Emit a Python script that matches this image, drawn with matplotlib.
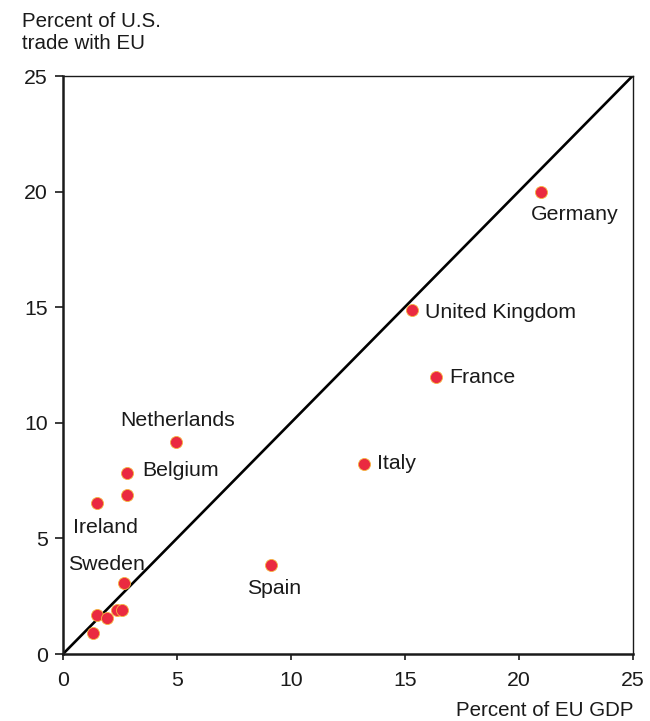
import matplotlib
matplotlib.use("Agg")
import matplotlib.pyplot as plt

plt.rcParams['font.family'] = ['Liberation Sans', 'DejaVu Sans']

# Data: (percent of EU GDP, percent of U.S. trade with EU)
gdp = [21.0, 15.32, 16.37, 13.21, 4.96, 2.82, 2.82, 1.48, 9.13, 2.69, 1.48, 1.92, 2.36, 2.58, 1.33]
trade = [19.98, 14.88, 11.98, 8.22, 9.17, 7.84, 6.88, 6.54, 3.85, 3.06, 1.69, 1.57, 1.90, 1.90, 0.90]

label_names = ["Germany", "United Kingdom", "France", "Italy", "Netherlands",
               "Belgium", "Ireland", "Sweden", "Spain"]
label_x = [20.55, 15.89, 16.94, 13.78, 2.50, 3.47, 0.44, 0.22, 8.08]
label_y = [18.99, 14.75, 11.98, 8.22, 10.08, 7.92, 5.49, 3.85, 2.85]

ticks = [0, 5, 10, 15, 20, 25]

FS = 15.3
FSA = 14.8
fig = plt.figure(figsize=(6.5, 7.21), dpi=100)
ax = fig.add_axes([63/650, 1-654/721, (632.5-63)/650, (654-76)/721])

ax.plot([0, 25], [0, 25], color='black', lw=1.9, zorder=2)
ax.scatter(gdp, trade, s=75, facecolor='#ea2a40', edgecolor='#f6b43e', linewidth=0.6, zorder=3)

for name, x, y in zip(label_names, label_x, label_y):
    ax.text(x, y, name, ha='left', va='center', fontsize=FS, color='#1a1a1a', zorder=4)

ax.set_xlim(0, 25)
ax.set_ylim(0, 25)
ax.set_xticks(ticks)
ax.set_yticks(ticks)
ax.tick_params(direction='out', width=1.2, labelsize=FS, colors='#1a1a1a')
ax.tick_params(axis='y', length=6, pad=5)
ax.tick_params(axis='x', length=4, pad=8)

ax.spines['left'].set_linewidth(1.8)
ax.spines['bottom'].set_linewidth(1.8)
ax.spines['top'].set_linewidth(1.0)
ax.spines['right'].set_linewidth(1.0)
for s in ax.spines.values():
    s.set_color('#1a1a1a')

fig.text(22/650, 1-27/721, "Percent of U.S.", ha='left', va='baseline',
         fontsize=FSA, color='#1a1a1a')
fig.text(22/650, 1-49/721, "trade with EU", ha='left', va='baseline',
         fontsize=FSA, color='#1a1a1a')
fig.text(633/650, 1-716/721, "Percent of EU GDP", ha='right', va='baseline',
         fontsize=FSA, color='#1a1a1a')

fig.savefig("out.png", dpi=100, facecolor='white')
